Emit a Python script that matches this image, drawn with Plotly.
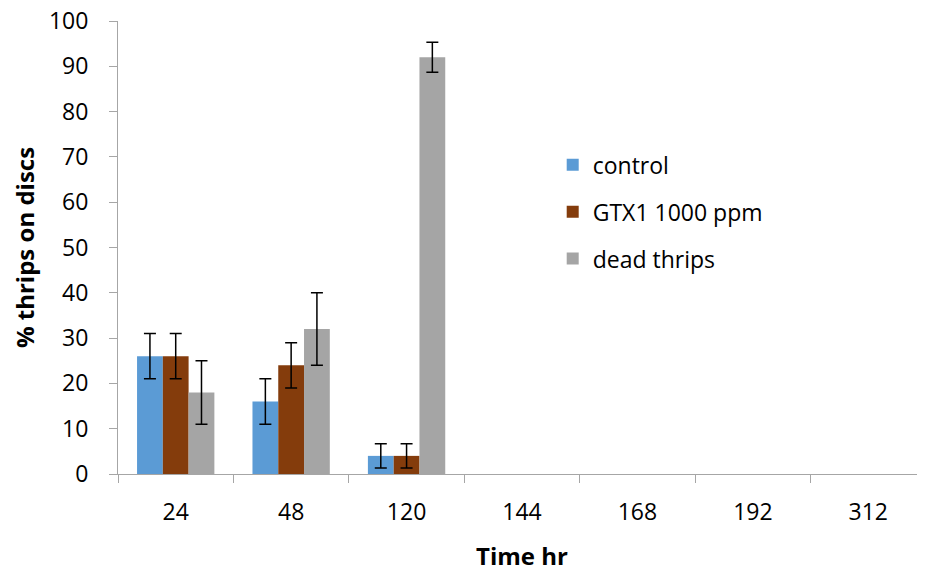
import plotly.graph_objects as go

categories = ["24", "48", "120", "144", "168", "192", "312"]
control = [26, 16, 4, 0, 0, 0, 0]
control_err = [5, 5, 2.7]
gtx = [26, 24, 4, 0, 0, 0, 0]
gtx_err = [5, 5, 2.7]
dead = [18, 32, 92, 0, 0, 0, 0]
dead_err = [7, 8, 3.3]

names = ["control", "GTX1 1000 ppm", "dead thrips"]
colors = ["#5B9BD5", "#843C0C", "#A5A5A5"]
series = [(control, control_err), (gtx, gtx_err), (dead, dead_err)]

fig = go.Figure()
for (vals, errs), name, col in zip(series, names, colors):
    fig.add_trace(go.Bar(
        x=categories, y=vals, name=name, legendgroup=name,
        marker=dict(color=col, line=dict(width=0)),
        error_y=dict(type="data", array=errs,
                     visible=True, color="black", thickness=1.5, width=6),
    ))

fig.update_layout(
    width=925, height=572,
    margin=dict(l=110, r=7, t=13, b=106),
    paper_bgcolor="white", plot_bgcolor="white",
    barmode="group", bargap=0.33, bargroupgap=0,
    font=dict(family="Open Sans, Liberation Sans, sans-serif", color="black"),
    showlegend=True,
    legend=dict(x=0.538, y=0.73, xanchor="left", yanchor="top",
                font=dict(size=23), tracegroupgap=14, bgcolor="rgba(0,0,0,0)"),
    xaxis=dict(
        type="category", showline=True, linecolor="#A6A6A6", linewidth=1,
        ticks="outside", tickson="boundaries", ticklen=8, tickcolor="#A6A6A6",
        tickfont=dict(size=23), showgrid=False, automargin=False,
        ticklabelstandoff=17, ticklabeloverflow="allow",
        title=dict(text="<b>Time hr</b>", font=dict(size=24), standoff=22),
    ),
    yaxis=dict(
        range=[0, 100], dtick=10, showline=True, linecolor="#A6A6A6", linewidth=1,
        ticks="outside", ticklen=8, tickcolor="#A6A6A6", tickfont=dict(size=23),
        showgrid=False, zeroline=False, automargin=False,
        ticklabelstandoff=16, ticklabeloverflow="allow",
        title=dict(text="<b>% thrips on discs</b>", font=dict(size=24), standoff=28),
    ),
)

fig.write_html("out.html")
